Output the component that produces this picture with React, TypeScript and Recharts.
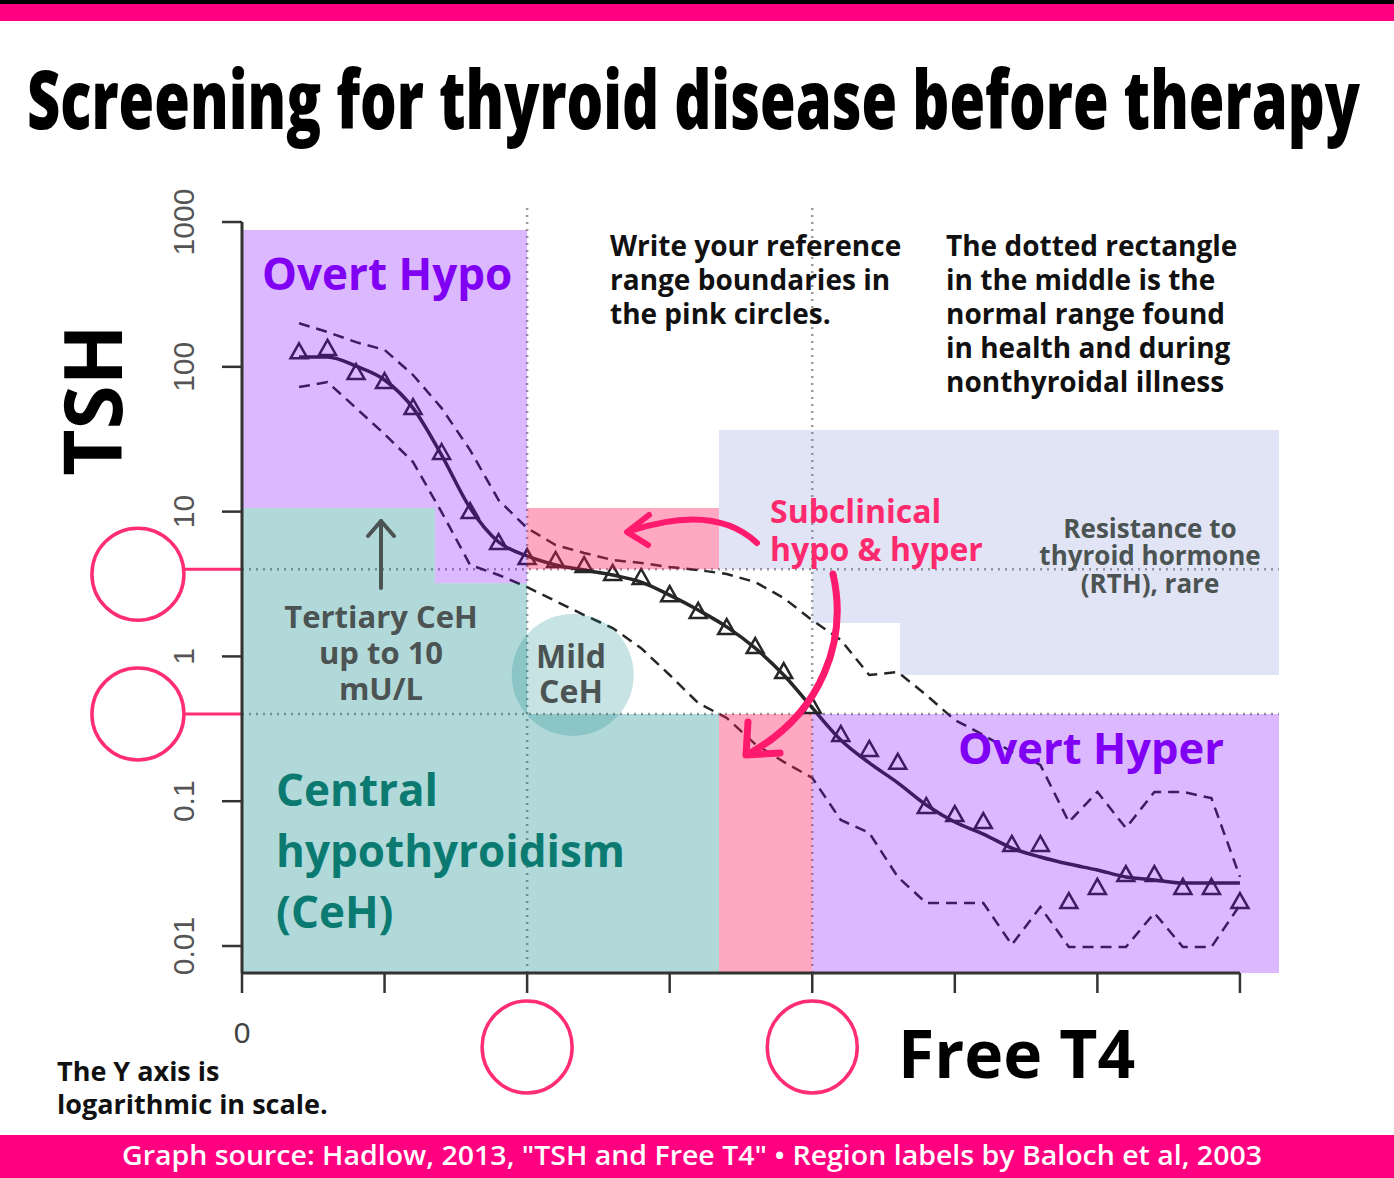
import React from 'react';
import {
  ComposedChart,
  Line,
  Scatter,
  XAxis,
  YAxis,
  ReferenceArea,
  ReferenceLine,
  ReferenceDot,
} from 'recharts';

// ---------------- data ----------------
const freeT4 = [
  0.4, 0.6, 0.8, 1.0, 1.2, 1.4, 1.6, 1.8, 2.0, 2.2, 2.4, 2.6, 2.8, 3.0, 3.2, 3.4, 3.6,
  3.8, 4.0, 4.2, 4.4, 4.6, 4.8, 5.0, 5.2, 5.4, 5.6, 5.8, 6.0, 6.2, 6.4, 6.6, 6.8, 7.0,
];
const tshMeasured = [
  126, 133, 90.6, 78.5, 51.9, 25.4, 9.93, 6.07, 4.78, 4.56, 4.21, 3.71, 3.48, 2.65, 2.03,
  1.57, 1.16, 0.78, 0.448, 0.287, 0.226, 0.184, 0.0912, 0.0803, 0.0718, 0.0499, 0.0499,
  0.0201, 0.0252, 0.0309, 0.0309, 0.0252, 0.0252, 0.0201,
];
const tshFit = [
  117, 117, 101, 81.1, 51.9, 24.6, 10.6, 6.17, 4.94, 4.28, 3.95, 3.65, 3.26, 2.65, 2.09,
  1.6, 1.14, 0.744, 0.441, 0.265, 0.184, 0.134, 0.0942, 0.0718, 0.0593, 0.0475, 0.0412,
  0.0368, 0.0335, 0.03, 0.0286, 0.0272, 0.0272, 0.0272,
];
const tshUpper = [
  200, 174, 148, 131, 87.8, 51.9, 26.6, 12.0, 7.7, 5.88, 5.18, 4.63, 4.42, 4.14, 3.95,
  3.71, 3.26, 2.53, 1.78, 1.3, 0.744, 0.78, 0.541, 0.364, 0.287, 0.219, 0.178, 0.0718,
  0.116, 0.0653, 0.116, 0.116, 0.105, 0.03,
];
const tshLower = [
  72.5, 78.5, 51.9, 34.3, 22.0, 9.93, 4.28, 3.65, 3.01, 2.41, 1.93, 1.57, 1.14, 0.744,
  0.476, 0.376, 0.248, 0.187, 0.145, 0.0742, 0.0604, 0.03, 0.0198, 0.0198, 0.0198, 0.0102,
  0.0186, 0.00984, 0.00984, 0.00984, 0.0169, 0.00984, 0.00984, 0.0192,
];

const xTicks = [0, 1, 2, 3, 4, 5, 6, 7];
const xTickLabels = ['0', '', '', '', '', '', '', ''];
const boundaryXTicks = [2, 4];
const yTicks = [0.01, 0.1, 1, 10, 100, 1000];
const yTickLabels = ['0.01', '0.1', '1', '10', '100', '1000'];

const X_MAX = 7.274;
const Y_MIN = 0.00651;
const Y_MAX = 1270;

const ft4Normal = [2, 4];
const tshNormal = [0.4, 4];

// region rectangles: [ft4From, ft4To, tshFrom, tshTo]
const overtHypoRegions = [
  [0, 2, 10.6, 880],
  [1.354, 2, 3.2, 10.6],
];
const centralRegions = [
  [0, 1.354, Y_MIN, 10.6],
  [1.354, 2, Y_MIN, 3.2],
  [2, 3.346, Y_MIN, 0.4],
];
const subclinicalRegions = [
  [2, 3.346, 4, 10.6],
  [3.346, 4, Y_MIN, 0.4],
];
const overtHyperRegions = [[4, X_MAX, Y_MIN, 0.4]];
const rthRegions = [
  [3.346, 4, 4, 36.6],
  [4, 4.615, 1.7, 36.6],
  [4.615, X_MAX, 0.744, 36.6],
];
const mildCeH = { ft4: 2.32, tsh: 0.745 };
const yCircleTsh = [3.7, 0.4];

const rows = freeT4.map((x, i) => ({
  ft4: x,
  tsh: tshMeasured[i],
  fit: tshFit[i],
  upper: tshUpper[i],
  lower: tshLower[i],
}));

// ---------------- styles ----------------
const PINK = '#FF2D72';
const GRAY_TXT = '#4B5353';
const FONT = "'Open Sans', 'Noto Sans', sans-serif";
const OVER = 700;
const TOP = 800;

const Triangle = (p: any) => {
  const { cx, cy } = p;
  if (cx == null || cy == null) return <g />;
  return (
    <path
      d={`M${cx},${cy - 9} L${cx + 8.5},${cy + 6} L${cx - 8.5},${cy + 6} Z`}
      fill="none"
      stroke="#262626"
      strokeWidth={2.5}
    />
  );
};

const YTick = (p: any) => {
  const { x, y, payload } = p;
  const idx = yTicks.indexOf(payload.value);
  const label = idx >= 0 ? yTickLabels[idx] : '';
  const tx = x - 38;
  return (
    <text
      x={tx}
      y={y}
      transform={`rotate(-90 ${tx} ${y})`}
      textAnchor="middle"
      dominantBaseline="central"
      fontSize={30}
      fill="#555"
      fontFamily="'Liberation Sans', Arial, sans-serif"
    >
      {label}
    </text>
  );
};

const XTick = (p: any) => {
  const { x, y, payload } = p;
  const v = payload.value;
  const idx = xTicks.indexOf(v);
  if (boundaryXTicks.includes(v)) {
    return (
      <ellipse cx={x} cy={y + 54} rx={45} ry={46} fill="none" stroke={PINK} strokeWidth={3.5} />
    );
  }
  return (
    <text
      x={x}
      y={y + 50}
      textAnchor="middle"
      fontSize={30}
      fill="#444"
      fontFamily="'Liberation Sans', Arial, sans-serif"
    >
      {idx >= 0 ? xTickLabels[idx] : ''}
    </text>
  );
};

const area = (r: number[], fill: string, op: number, key: string) => (
  <ReferenceArea
    key={key}
    x1={r[0]}
    x2={r[1]}
    y1={r[2]}
    y2={r[3]}
    fill={fill}
    fillOpacity={op}
    stroke="none"
    ifOverflow="visible"
    zIndex={OVER}
  />
);

const T = (props: any) => <text fontFamily={FONT} fontWeight={700} {...props} />;

export default function App() {
  return (
    <div
      style={{
        position: 'absolute',
        left: 0,
        top: 0,
        width: 1394,
        height: 1178,
        background: '#fff',
        overflow: 'hidden',
      }}
    >
      <div style={{ position: 'absolute', left: 0, top: 0, width: 1394, height: 4, background: '#000' }} />
      <div style={{ position: 'absolute', left: 0, top: 4, width: 1394, height: 17, background: '#FF0080' }} />
      <div style={{ position: 'absolute', left: 0, top: 1135, width: 1394, height: 43, background: '#FF0080' }} />

      <div style={{ position: 'absolute', left: 0, top: 0 }}>
        <ComposedChart
          width={1394}
          height={1178}
          data={rows}
          margin={{ top: 207, right: 115, bottom: 175, left: 182 }}
        >
          <XAxis
            dataKey="ft4"
            type="number"
            domain={[0, X_MAX]}
            ticks={xTicks}
            allowDataOverflow
            axisLine={false}
            tickLine={{ stroke: '#333', strokeWidth: 2.5 }}
            tickSize={20}
            tickMargin={0}
            height={30}
            tick={<XTick />}
            interval={0}
          />
          <YAxis
            type="number"
            scale="log"
            domain={[Y_MIN, Y_MAX]}
            ticks={yTicks}
            allowDataOverflow
            axisLine={false}
            tickLine={{ stroke: '#333', strokeWidth: 2.5 }}
            tickSize={20}
            tickMargin={0}
            width={60}
            tick={<YTick />}
            interval={0}
          />

          {tshNormal.map((v) => (
            <ReferenceLine
              key={'h' + v}
              y={v}
              stroke="#9a9a9a"
              strokeWidth={2.5}
              strokeDasharray="2 5"
            />
          ))}
          {ft4Normal.map((v) => (
            <ReferenceLine
              key={'v' + v}
              x={v}
              stroke="#9a9a9a"
              strokeWidth={2.5}
              strokeDasharray="2 5"
            />
          ))}

          <Line
            dataKey="upper"
            type="linear"
            stroke="#262626"
            strokeWidth={2.5}
            strokeDasharray="11 7"
            dot={false}
            isAnimationActive={false}
          />
          <Line
            dataKey="lower"
            type="linear"
            stroke="#262626"
            strokeWidth={2.5}
            strokeDasharray="11 7"
            dot={false}
            isAnimationActive={false}
          />
          <Line
            dataKey="fit"
            type="monotone"
            stroke="#262626"
            strokeWidth={3.5}
            dot={false}
            isAnimationActive={false}
          />
          <Scatter dataKey="tsh" shape={<Triangle />} isAnimationActive={false} />

          {overtHypoRegions.map((r, i) => area(r, '#8000FF', 0.28, 'oh' + i))}
          {centralRegions.map((r, i) => area(r, '#008080', 0.3, 'c' + i))}
          {subclinicalRegions.map((r, i) => area(r, '#FF1A5C', 0.38, 's' + i))}
          {overtHyperRegions.map((r, i) => area(r, '#8000FF', 0.28, 'oy' + i))}
          {rthRegions.map((r, i) => area(r, '#6677CC', 0.2, 'r' + i))}

          <ReferenceDot
            x={mildCeH.ft4}
            y={mildCeH.tsh}
            r={61}
            fill="#008080"
            fillOpacity={0.22}
            stroke="none"
            ifOverflow="visible"
            zIndex={OVER}
          />

          {yCircleTsh.map((v, i) => (
            <ReferenceLine
              key={'pc' + i}
              segment={[
                { x: -0.4, y: tshNormal[1 - i] },
                { x: 0, y: tshNormal[1 - i] },
              ]}
              stroke={PINK}
              strokeWidth={3}
              ifOverflow="visible"
              zIndex={TOP}
            />
          ))}
          {yCircleTsh.map((v, i) => (
            <ReferenceDot
              key={'pd' + i}
              x={-0.73}
              y={v}
              r={46}
              fill="none"
              stroke={PINK}
              strokeWidth={3.5}
              ifOverflow="visible"
              zIndex={TOP}
            />
          ))}

          <ReferenceLine
            segment={[
              { x: 0, y: Y_MIN },
              { x: 7, y: Y_MIN },
            ]}
            stroke="#333"
            strokeWidth={3}
            ifOverflow="visible"
            zIndex={TOP}
          />
          <ReferenceLine
            segment={[
              { x: 0, y: Y_MIN },
              { x: 0, y: 1000 },
            ]}
            stroke="#333"
            strokeWidth={3}
            ifOverflow="visible"
            zIndex={TOP}
          />
        </ComposedChart>
      </div>

      <svg
        width={1394}
        height={1178}
        style={{ position: 'absolute', left: 0, top: 0, pointerEvents: 'none' }}
      >
        <T
          x={0}
          y={0}
          fontSize={52}
          fontWeight={800}
          fill="#000"
          textLength={1333}
          lengthAdjust="spacingAndGlyphs"
          transform="translate(27 129) scale(1 1.57)"
        >
          Screening for thyroid disease before therapy
        </T>

        <T x={122} y={400} fontSize={80} fill="#000" textAnchor="middle" transform="rotate(-90 122 400)">
          TSH
        </T>
        <T x={898} y={1078} fontSize={66} fill="#000">
          Free T4
        </T>

        <T x={262} y={290} fontSize={44} fill="#7F00F2">
          Overt Hypo
        </T>
        <T x={958} y={764} fontSize={43.5} fill="#7F00F2">
          Overt Hyper
        </T>

        <T fontSize={28} fill="#111">
          <tspan x={610} y={256}>Write your reference</tspan>
          <tspan x={610} y={290}>range boundaries in</tspan>
          <tspan x={610} y={324}>the pink circles.</tspan>
        </T>
        <T fontSize={28} fill="#111">
          <tspan x={946} y={256}>The dotted rectangle</tspan>
          <tspan x={946} y={290}>in the middle is the</tspan>
          <tspan x={946} y={324}>normal range found</tspan>
          <tspan x={946} y={358}>in health and during</tspan>
          <tspan x={946} y={392}>nonthyroidal illness</tspan>
        </T>

        <T fontSize={32} fill="#FF2A6E">
          <tspan x={770} y={523}>Subclinical</tspan>
          <tspan x={770} y={561}>hypo &amp; hyper</tspan>
        </T>

        <T fontSize={26} fill={GRAY_TXT} textAnchor="middle">
          <tspan x={1150} y={538}>Resistance to</tspan>
          <tspan x={1150} y={565}>thyroid hormone</tspan>
          <tspan x={1150} y={593}>(RTH), rare</tspan>
        </T>

        <T fontSize={31} fill={GRAY_TXT} textAnchor="middle">
          <tspan x={381} y={628}>Tertiary CeH</tspan>
          <tspan x={381} y={664}>up to 10</tspan>
          <tspan x={381} y={700}>mU/L</tspan>
        </T>
        <g stroke={GRAY_TXT} strokeWidth={4} fill="none" strokeLinecap="round" strokeLinejoin="round">
          <line x1={381} y1={588} x2={381} y2={521} />
          <polyline points="368,536 381,521 394,536" />
        </g>

        <T fontSize={32} fill={GRAY_TXT} textAnchor="middle">
          <tspan x={571} y={668}>Mild</tspan>
          <tspan x={571} y={703}>CeH</tspan>
        </T>

        <T fontSize={44} fill="#0B7B72">
          <tspan x={276} y={806}>Central</tspan>
          <tspan x={276} y={867}>hypothyroidism</tspan>
          <tspan x={276} y={928}>(CeH)</tspan>
        </T>

        <g stroke="#FF1A6E" fill="none" strokeLinecap="round" strokeLinejoin="round">
          <path d="M757,543 Q715,503 630,531" strokeWidth={6} />
          <polyline points="649,515 627,532 648,545" strokeWidth={6} />
          <path d="M833,574 C848,640 822,712 752,752" strokeWidth={7} />
          <polyline points="748,722 746,755 780,753" strokeWidth={7} />
        </g>

        <T fontSize={27} fill="#111">
          <tspan x={57} y={1081}>The Y axis is</tspan>
          <tspan x={57} y={1114}>logarithmic in scale.</tspan>
        </T>

        <T
          x={122}
          y={1165}
          fontSize={27}
          fontWeight={600}
          fill="#fff"
          textLength={1140}
          lengthAdjust="spacingAndGlyphs"
        >
          Graph source: Hadlow, 2013, "TSH and Free T4" • Region labels by Baloch et al, 2003
        </T>
      </svg>
    </div>
  );
}
